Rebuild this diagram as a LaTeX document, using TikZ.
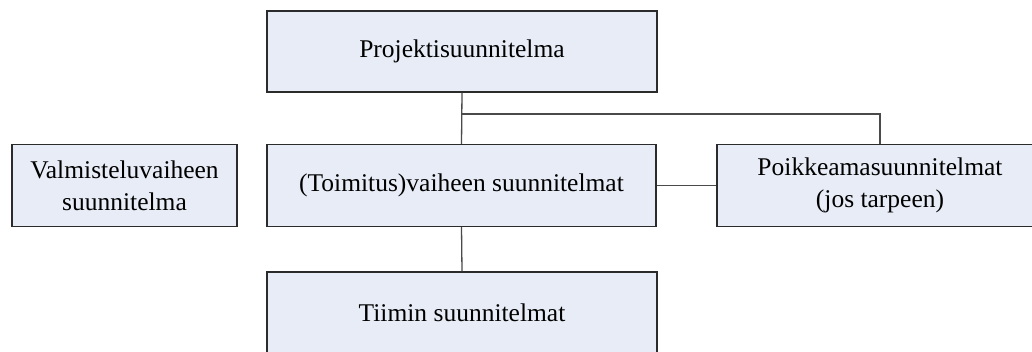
\documentclass[tikz,border=0pt]{standalone}
\usepackage{fontspec}
\setmainfont{Liberation Serif}
\definecolor{boxfill}{HTML}{E7ECF6}
\definecolor{boxline}{HTML}{2B2B2B}
\definecolor{conn}{HTML}{4A4A4A}
\tikzset{
  x=1pt, y=1pt,
  plan/.style={draw=boxline, fill=boxfill, line width=1.3pt, inner sep=0pt,
    align=center, font=\fontsize{25.5}{32}\selectfont},
  link/.style={draw=conn, line width=1.3pt}
}
\begin{document}
\begin{tikzpicture}
\useasboundingbox (0,0) rectangle (1032,-351);
\clip (0,0) rectangle (1032,-351);
\node[plan, minimum width=390, minimum height=81] (proj) at (462,-51.5) {Projektisuunnitelma};
\node[plan, minimum width=225, minimum height=82] (valm) at (124.5,-185.5) {Valmisteluvaiheen\\suunnitelma};
\node[plan, minimum width=389, minimum height=82] (vaih) at (461.5,-185.5) {(Toimitus)vaiheen suunnitelmat};
\node[plan, minimum width=326, minimum height=82] (poik) at (880,-185.5) {Poikkeamasuunnitelmat\\(jos tarpeen)};
\node[plan, minimum width=390, minimum height=82] (tiim) at (462,-313) {Tiimin suunnitelmat};
\coordinate (branch) at (462,-114);
\draw[link] (proj.south) -- (vaih.north);
\draw[link] (branch) -| (poik.north);
\draw[link] (vaih.east) -- (poik.west);
\draw[link] (vaih.south) -- (tiim.north);
\end{tikzpicture}
\end{document}
